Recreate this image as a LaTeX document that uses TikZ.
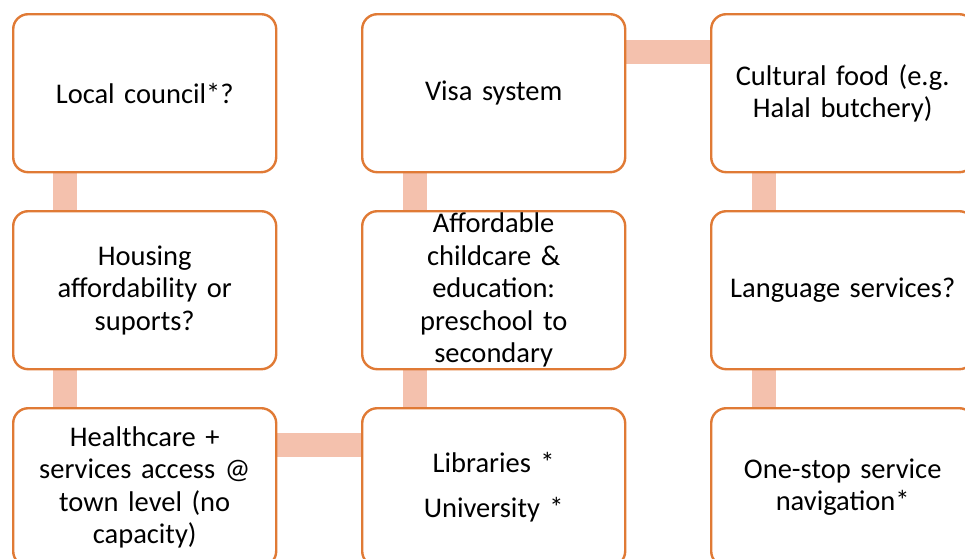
\documentclass[tikz,border=0pt]{standalone}
\usepackage{fontspec}
\setmainfont{Carlito}
\usetikzlibrary{backgrounds}
\definecolor{boxline}{HTML}{E07A35}
\definecolor{connfill}{HTML}{F4C1AD}
\tikzset{
  card/.style={draw=boxline, line width=2.4pt, fill=white, rounded corners=15pt,
    minimum width=263pt, minimum height=158pt, inner sep=0pt, anchor=north west,
    text width=250pt, align=center, font=\fontsize{28.5}{32.5}\selectfont},
  conn/.style={draw=connfill, line width=24pt}
}
\begin{document}
\begin{tikzpicture}[x=1pt,y=1pt]
\useasboundingbox (0,0) rectangle (965,-558);
\clip (0,0) rectangle (965,-558);
\node[card] (b1) at (12,-13) {Local council*?};
\node[card] (b2) at (361,-13) {Visa system};
\node[card] (b3) at (710,-13) {Cultural food (e.g.\\Halal butchery)};
\node[card] (b4) at (12,-210) {Housing\\affordability or\\suports?};
\node[card] (b5) at (361,-210) {Affordable\\childcare \&\\education:\\preschool to\\secondary};
\node[card] (b6) at (710,-210) {Language services?};
\node[card] (b7) at (12,-407) {Healthcare +\\services access @\\town level (no\\capacity)};
\node[card] (b8) at (361,-407) {Libraries *\\[12pt]University *};
\node[card] (b9) at (710,-407) {One-stop service\\navigation*};
\begin{scope}[on background layer]
\draw[conn] ([xshift=53pt]b1.south west) -- ([xshift=53pt]b4.north west);
\draw[conn] ([xshift=53pt]b4.south west) -- ([xshift=53pt]b7.north west);
\draw[conn] ([yshift=-38pt]b7.north east) -- ([yshift=-38pt]b8.north west);
\draw[conn] ([xshift=54pt]b8.north west) -- ([xshift=54pt]b5.south west);
\draw[conn] ([xshift=54pt]b5.north west) -- ([xshift=54pt]b2.south west);
\draw[conn] ([yshift=-38.5pt]b2.north east) -- ([yshift=-38.5pt]b3.north west);
\draw[conn] ([xshift=54pt]b3.south west) -- ([xshift=54pt]b6.north west);
\draw[conn] ([xshift=54pt]b6.south west) -- ([xshift=54pt]b9.north west);
\end{scope}
\end{tikzpicture}
\end{document}
